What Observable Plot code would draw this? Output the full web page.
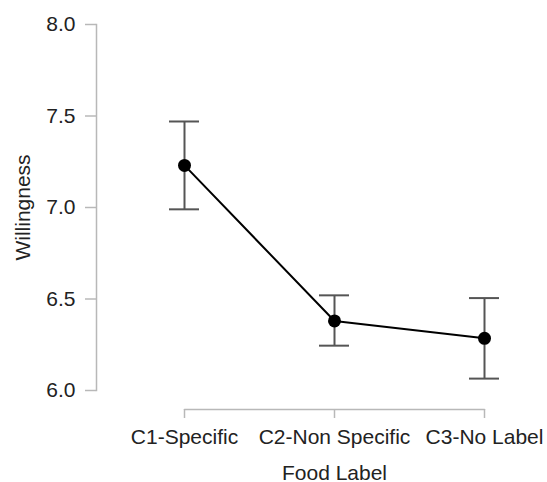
<!DOCTYPE html>
<html><head><meta charset="utf-8">
<script src="https://cdn.jsdelivr.net/npm/d3@7"></script>
<script src="https://cdn.jsdelivr.net/npm/@observablehq/plot@0.6"></script>
<style>body{margin:0;background:#fff}</style>
</head><body><div id="chart"></div>
<script>
const categories = ["C1-Specific", "C2-Non Specific", "C3-No Label"];
const means = [7.23, 6.38, 6.285];
const lower = [6.99, 6.245, 6.065];
const upper = [7.47, 6.52, 6.505];
const yTicks = [6.0, 6.5, 7.0, 7.5, 8.0];

const data = categories.map((c, i) => ({cat: c, mean: means[i], lo: lower[i], hi: upper[i]}));

const chart = Plot.plot({
  width: 547, height: 482,
  marginLeft: 96, marginRight: 46, marginTop: 24, marginBottom: 92,
  style: {fontFamily: "'Liberation Sans', Arial, sans-serif", fontSize: "21px", background: "#fff", color: "#222"},
  x: {type: "band", domain: categories, range: [169, 501], paddingInner: 0.8013, paddingOuter: 0, align: 0},
  y: {domain: [6, 8], ticks: yTicks},
  marks: [
    Plot.frame({anchor: "left", stroke: "#b8b8b8", strokeWidth: 1.5}),
    Plot.axisY({ticks: yTicks, tickFormat: d3.format(".1f"), tickSize: 11, tickPadding: 10, stroke: "#b8b8b8", strokeWidth: 1.5, label: null, fill: "#222", fontSize: 21}),
    Plot.line(categories, {x: d => d, y: () => 6, dy: 19, stroke: "#b8b8b8", strokeWidth: 1.5}),
    Plot.axisX({tickSize: 9, dy: 19, tickPadding: 11, stroke: "#b8b8b8", strokeWidth: 1.5, label: null, fill: "#222", fontSize: 21}),
    Plot.text(["Willingness"], {frameAnchor: "left", textAnchor: "middle", rotate: -90, dx: -73, fill: "#222", fontSize: 21}),
    Plot.text(["Food Label"], {x: () => categories[1], frameAnchor: "bottom", textAnchor: "middle", lineAnchor: "bottom", dy: 89, fill: "#222", fontSize: 21}),
    Plot.link(data, {x1: "cat", x2: "cat", y1: "lo", y2: "hi", stroke: "#555", strokeWidth: 2}),
    Plot.tickY(data, {x: "cat", y: "lo", stroke: "#555", strokeWidth: 2}),
    Plot.tickY(data, {x: "cat", y: "hi", stroke: "#555", strokeWidth: 2}),
    Plot.line(data, {x: "cat", y: "mean", stroke: "#000", strokeWidth: 2}),
    Plot.dot(data, {x: "cat", y: "mean", r: 6.5, fill: "#000", stroke: "none"})
  ]
});
document.getElementById("chart").appendChild(chart);
</script>
</body></html>
